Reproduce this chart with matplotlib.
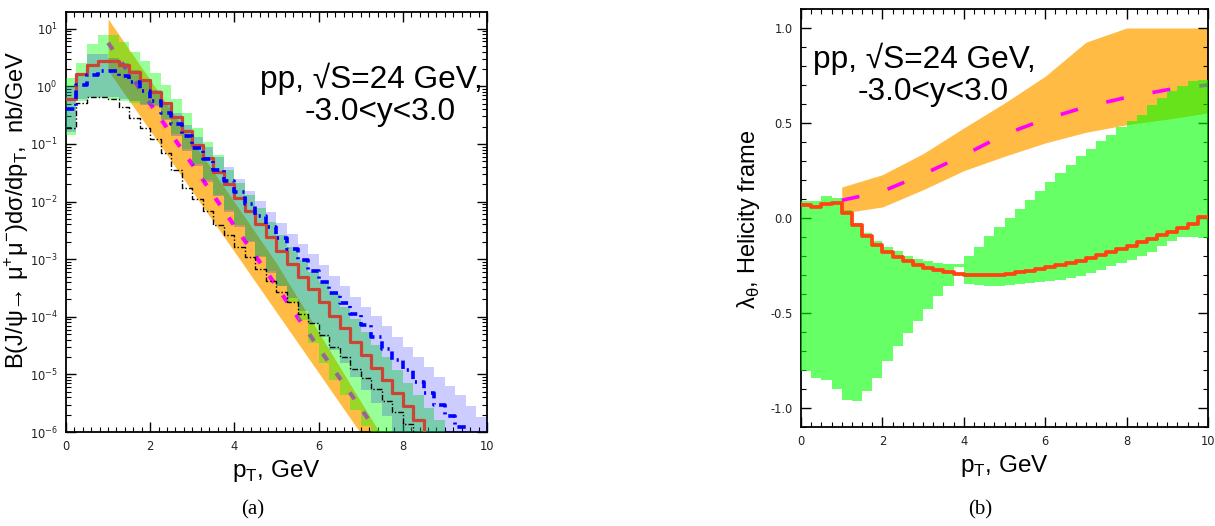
import numpy as np
import matplotlib
matplotlib.use("Agg")
import matplotlib.pyplot as plt
from matplotlib.ticker import MultipleLocator, LogLocator, NullFormatter

plt.rcParams["axes.unicode_minus"] = False
plt.rcParams["lines.scale_dashes"] = False

SANS = ["Liberation Sans", "DejaVu Sans"]
BIN_W = 0.25

# ---------------- panel (a): dsigma/dpT (nb/GeV), 0.25 GeV bins from 0 ----------------
RED_A = [0.60, 1.66, 2.3, 2.7, 2.7, 2.3, 1.8, 1.3, 0.81, 0.51, 0.29, 0.17, 9.5e-2,
         5.6e-2, 3.3e-2, 2.0e-2, 1.17e-2, 6.9e-3, 4.1e-3, 2.4e-3, 1.4e-3, 8.3e-4,
         5.0e-4, 3.0e-4, 1.8e-4, 1.05e-4, 6.3e-5, 3.7e-5, 2.2e-5, 1.3e-5, 7.9e-6,
         4.7e-6, 2.8e-6, 1.6e-6]
BLUE_A = [0.40, 1.07, 1.58, 1.86, 1.86, 1.51, 1.17, 0.83, 0.56, 0.35, 0.22, 0.138,
          8.5e-2, 5.4e-2, 3.5e-2, 2.3e-2, 1.45e-2, 8.9e-3, 5.6e-3, 3.6e-3, 2.3e-3,
          1.5e-3, 9.5e-4, 6.2e-4, 4.0e-4, 2.6e-4, 1.7e-4, 1.12e-4, 7.1e-5, 4.5e-5,
          2.8e-5, 1.8e-5, 1.17e-5, 7.4e-6, 4.8e-6, 3.0e-6, 1.9e-6, 1.2e-6]
BLACK_A = [0.19, 0.51, 0.66, 0.66, 0.60, 0.43, 0.28, 0.19, 0.12, 7.1e-2, 3.5e-2,
           1.7e-2, 1.1e-2, 6.9e-3, 3.9e-3, 2.6e-3, 1.6e-3, 1.07e-3, 6.8e-4, 4.1e-4,
           2.7e-4, 1.8e-4, 1.12e-4, 7.9e-5, 4.8e-5, 3.0e-5, 2.0e-5, 1.26e-5, 8.5e-6,
           5.6e-6, 3.5e-6, 2.2e-6, 1.4e-6]
GREEN_HI_A = [1.4, 2.5, 5.4, 7.8, 7.8, 5.9, 4.0, 2.7, 1.7, 1.07, 0.60, 0.34, 0.19,
              0.107, 6.3e-2, 3.5e-2, 2.1e-2, 1.3e-2, 7.6e-3, 4.4e-3, 2.6e-3, 1.6e-3,
              9.8e-4, 6.0e-4, 4.0e-4, 2.5e-4, 1.5e-4, 9.1e-5, 5.5e-5, 3.3e-5, 2.0e-5,
              1.2e-5, 7.2e-6, 4.4e-6, 2.6e-6, 1.6e-6]
GREEN_LO_A = [0.145, 0.55, 0.62, 0.62, 0.60, 0.55, 0.52, 0.50, 0.48, 0.275, 0.148,
              8.1e-2, 4.4e-2, 2.4e-2, 1.29e-2, 7.1e-3, 3.9e-3, 2.1e-3, 1.15e-3, 6.2e-4,
              3.4e-4, 1.8e-4, 8.9e-5, 3.5e-5, 1.6e-5, 7.9e-6, 4.4e-6, 2.4e-6, 1.26e-6,
              7.1e-7, 5e-7, 5e-7, 5e-7, 5e-7, 5e-7, 5e-7]
BAND_HI_A = [1.0, 1.7, 3.6, 3.6, 3.1, 2.5, 1.9, 1.32, 0.85, 0.54, 0.34, 0.21, 0.132,
             8.9e-2, 5.9e-2, 3.9e-2, 2.5e-2, 1.55e-2, 1.02e-2, 6.5e-3, 4.3e-3, 2.75e-3,
             1.8e-3, 1.23e-3, 7.9e-4, 5.1e-4, 3.4e-4, 2.2e-4, 1.5e-4, 1.05e-4, 6.8e-5,
             4.5e-5, 3.0e-5, 2.0e-5, 1.35e-5, 9.1e-6, 6.3e-6, 4.4e-6, 2.8e-6, 1.8e-6]
BAND_LO_A = [0.16, 0.60, 0.66, 0.66, 0.65, 0.60, 0.55, 0.48, 0.46, 0.26, 0.138, 7.6e-2,
             4.1e-2, 2.2e-2, 1.23e-2, 6.6e-3, 3.6e-3, 1.95e-3, 1.07e-3, 5.8e-4, 3.4e-4,
             2.1e-4, 1.26e-4, 7.6e-5, 4.5e-5, 2.6e-5, 1.55e-5, 9.1e-6, 5.4e-6, 3.2e-6,
             1.9e-6, 1.0e-6, 5e-7, 5e-7, 5e-7, 5e-7, 5e-7, 5e-7, 5e-7, 5e-7]
ORANGE_X_A = [1, 2, 3, 4, 5, 6, 7, 7.5]
ORANGE_HI_A = [14.8, 1.29, 0.112, 9.8e-3, 8.5e-4, 5.4e-5, 3.4e-6, 8.5e-7]
ORANGE_LO_A = [1.9, 0.17, 1.5e-2, 1.35e-3, 1.2e-4, 1.07e-5, 9.5e-7, 2.8e-7]
MAG_X_A = [1, 2, 3, 4, 5, 6, 7, 7.5]
MAG_A = [5.7, 0.50, 4.4e-2, 3.8e-3, 3.4e-4, 2.9e-5, 2.6e-6, 7.6e-7]

# ---------------- panel (b): lambda_theta, helicity frame ----------------
RED_B = [0.07, 0.058, 0.075, 0.079, 0.026, -0.035, -0.096, -0.14, -0.18, -0.205,
         -0.228, -0.245, -0.263, -0.275, -0.286, -0.293, -0.298, -0.302, -0.302, -0.298,
         -0.293, -0.286, -0.279, -0.268, -0.26, -0.249, -0.237, -0.225, -0.21, -0.196,
         -0.179, -0.163, -0.146, -0.128, -0.11, -0.091, -0.074, -0.054, -0.03, 0.005]
GREEN_HI_B = [0.088, 0.088, 0.114, 0.105, 0.04, -0.026, -0.08, -0.12, -0.15, -0.175,
              -0.2, -0.216, -0.228, -0.237, -0.242, -0.24, -0.198, -0.15, -0.096, -0.049,
              0.0, 0.049, 0.096, 0.144, 0.19, 0.237, 0.28, 0.325, 0.365, 0.404,
              0.439, 0.477, 0.509, 0.544, 0.596, 0.63, 0.667, 0.696, 0.72, 0.728]
GREEN_LO_B = [-0.807, -0.84, -0.85, -0.90, -0.956, -0.965, -0.91, -0.84, -0.755, -0.675,
              -0.605, -0.54, -0.477, -0.412, -0.356, -0.26, -0.346, -0.354, -0.356, -0.356,
              -0.354, -0.347, -0.342, -0.339, -0.333, -0.325, -0.316, -0.303, -0.29, -0.272,
              -0.254, -0.237, -0.219, -0.198, -0.18, -0.149, -0.123, -0.1, -0.1, -0.105]
ORANGE_X_B = [1, 2, 3, 4, 5, 6, 7, 8, 9, 10]
ORANGE_HI_B = [0.163, 0.228, 0.339, 0.474, 0.605, 0.746, 0.925, 1.0, 1.0, 1.0]
ORANGE_LO_B = [0.026, 0.058, 0.149, 0.249, 0.325, 0.395, 0.451, 0.491, 0.52, 0.553]
MAG_X_B = [1, 2, 3, 4, 5, 6, 7, 8, 9, 10]
MAG_B = [0.093, 0.14, 0.23, 0.33, 0.44, 0.52, 0.585, 0.635, 0.675, 0.70]

ORANGE = "#ffbb44"
TITLE_1 = "pp, √S=24 GeV,"
TITLE_2 = "-3.0<y<3.0"
XLABEL = r"p$_{\mathregular{T}}$, GeV"


def edges(vals):
    return BIN_W * np.arange(len(vals) + 1)


def hist_line(ax, vals, end, **kw):
    x = edges(vals)
    y = np.append(vals, end)
    ax.step(x, y, where="post", **kw)


def style_axes(ax):
    ax.tick_params(which="both", direction="in", top=True, right=True,
                   labelsize=8.3, labelcolor="#222222", pad=6)
    ax.tick_params(which="major", length=7, width=1)
    ax.tick_params(which="minor", length=3.5, width=0.8)
    for sp in ax.spines.values():
        sp.set_linewidth(1.3)
    ax.set_xlim(0, 10)
    ax.xaxis.set_major_locator(MultipleLocator(2))
    ax.set_xlabel(XLABEL, fontsize=17.5, family=SANS, labelpad=3)


fig = plt.figure(figsize=(12.15, 5.26), dpi=100)
ax1 = fig.add_axes([0.0543, 0.1787, 0.3465, 0.7985])
ax2 = fig.add_axes([0.6593, 0.1882, 0.3349, 0.7947])

# ---- (a) ----
ax1.set_yscale("log")
ax1.fill_between(ORANGE_X_A, ORANGE_LO_A, ORANGE_HI_A, color=ORANGE, lw=0, zorder=1)
ax1.plot(MAG_X_A, MAG_A, color="#ff00ff", lw=3, dashes=(6, 11), zorder=2)
ax1.stairs(GREEN_HI_A, edges(GREEN_HI_A), baseline=GREEN_LO_A, fill=True,
           color="#00ff00", alpha=0.4, lw=0, zorder=3)
ax1.stairs(BAND_HI_A, edges(BAND_HI_A), baseline=BAND_LO_A, fill=True,
           color="#0000ff", alpha=0.2, lw=0, zorder=4)
hist_line(ax1, RED_A, 1e-7, color="#cc4433", lw=2.3, zorder=5)
hist_line(ax1, BLACK_A, 1e-7, color="black", lw=1.0, dashes=(4, 1.5, 1, 1.5), zorder=6)
hist_line(ax1, BLUE_A, 1e-7, color="#0000ff", lw=2.6, dashes=(6, 3.5, 1.5, 3.5), zorder=7)

ax1.set_ylim(1e-6, 19.5)
ax1.yaxis.set_major_locator(LogLocator(base=10, numticks=20))
ax1.yaxis.set_minor_locator(LogLocator(base=10, subs=np.arange(2, 10), numticks=20))
ax1.yaxis.set_minor_formatter(NullFormatter())
ax1.xaxis.set_minor_locator(MultipleLocator(0.2))
style_axes(ax1)
ax1.set_ylabel(r"B(J/ψ→ μ$^{\mathregular{+}}$μ$^{\mathregular{-}}$)dσ/dp$_{\mathregular{T}}$,  nb/GeV",
               fontsize=17, family=SANS)
ax1.yaxis.set_label_coords(-0.083, 0.53)
ax1.text(0.461, 0.819, TITLE_1, transform=ax1.transAxes, fontsize=22.8,
         family=SANS, va="baseline", ha="left", zorder=10)
ax1.text(0.568, 0.743, TITLE_2, transform=ax1.transAxes, fontsize=22.8,
         family=SANS, va="baseline", ha="left", zorder=10)

# ---- (b) ----
ax2.fill_between(ORANGE_X_B, ORANGE_LO_B, ORANGE_HI_B, color=ORANGE, lw=0, zorder=1)
ax2.plot(MAG_X_B, MAG_B, color="#ff00ff", lw=2.6, dashes=(13, 21), zorder=2)
ax2.stairs(GREEN_HI_B, edges(GREEN_HI_B), baseline=GREEN_LO_B, fill=True,
           color="#00ff00", alpha=0.6, lw=0, zorder=3)
hist_line(ax2, RED_B, RED_B[-1], color="#ff4411", lw=2.7, zorder=5)

ax2.set_ylim(-1.1, 1.1)
ax2.yaxis.set_major_locator(MultipleLocator(0.5))
ax2.yaxis.set_minor_locator(MultipleLocator(0.1))
ax2.yaxis.set_major_formatter(plt.FuncFormatter(lambda v, _: f"{v:.1f}"))
ax2.xaxis.set_minor_locator(MultipleLocator(0.25))
style_axes(ax2)
ax2.set_ylabel(r"λ$_{\mathregular{θ}}$, Helicity frame", fontsize=17, family=SANS)
ax2.yaxis.set_label_coords(-0.096, 0.497)
ax2.text(0.0295, 0.859, TITLE_1, transform=ax2.transAxes, fontsize=22.8,
         family=SANS, va="baseline", ha="left", zorder=10)
ax2.text(0.14, 0.782, TITLE_2, transform=ax2.transAxes, fontsize=22.8,
         family=SANS, va="baseline", ha="left", zorder=10)

fig.text(253 / 1215, 1 - 510 / 526, "(a)", ha="center", va="center",
         fontsize=15, family=["Liberation Serif", "DejaVu Serif"])
fig.text(980 / 1215, 1 - 510 / 526, "(b)", ha="center", va="center",
         fontsize=15, family=["Liberation Serif", "DejaVu Serif"])

fig.savefig("out.png", dpi=100)
